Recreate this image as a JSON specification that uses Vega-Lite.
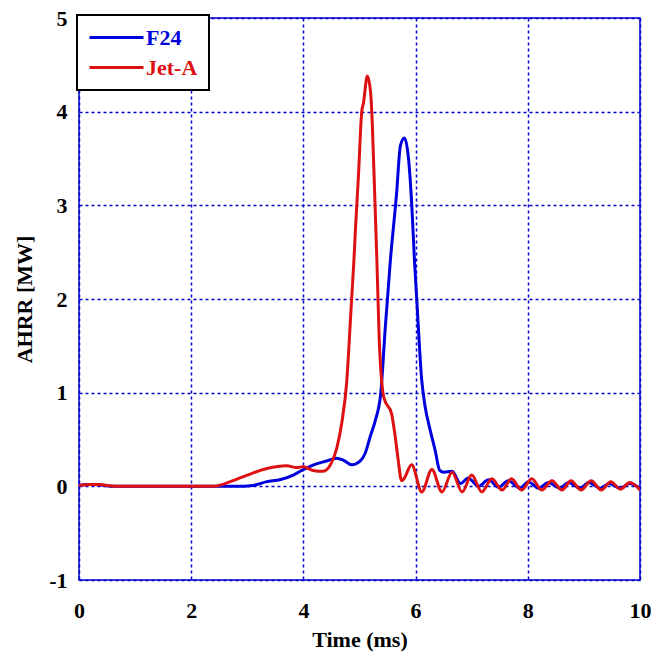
{
  "$schema": "https://vega.github.io/schema/vega-lite/v6.json",
  "width": 561,
  "height": 562,
  "autosize": {"type": "none"},
  "padding": {"left": 79, "top": 18, "right": 11, "bottom": 74},
  "background": "white",
  "config": {
    "view": {"stroke": "#0000cc", "strokeWidth": 1.5},
    "font": "Liberation Serif",
    "legend": {"strokeColor": "black", "strokeWidth": 2, "fillColor": "white", "cornerRadius": 0},
    "axis": {
      "labelFont": "Liberation Serif",
      "labelFontSize": 22,
      "labelFontWeight": "bold",
      "labelColor": "black",
      "titleFont": "Liberation Serif",
      "titleFontSize": 22,
      "titleFontWeight": "bold",
      "titleColor": "black",
      "domain": false,
      "ticks": false,
      "grid": true,
      "gridColor": "#0000cc",
      "gridDash": [3, 3],
      "gridWidth": 1.5,
      "gridOpacity": 1
    }
  },
  "data": {
    "values": [
      {"t": 0, "v": 0.01, "fuel": "F24"},
      {"t": 0.15, "v": 0.02, "fuel": "F24"},
      {"t": 0.3, "v": 0.02, "fuel": "F24"},
      {"t": 0.45, "v": 0.01, "fuel": "F24"},
      {"t": 0.6, "v": 0.0, "fuel": "F24"},
      {"t": 1.0, "v": 0.0, "fuel": "F24"},
      {"t": 2.0, "v": 0.0, "fuel": "F24"},
      {"t": 2.8, "v": 0.0, "fuel": "F24"},
      {"t": 3.1, "v": 0.01, "fuel": "F24"},
      {"t": 3.35, "v": 0.05, "fuel": "F24"},
      {"t": 3.58, "v": 0.07, "fuel": "F24"},
      {"t": 3.82, "v": 0.12, "fuel": "F24"},
      {"t": 4.0, "v": 0.18, "fuel": "F24"},
      {"t": 4.18, "v": 0.23, "fuel": "F24"},
      {"t": 4.41, "v": 0.27, "fuel": "F24"},
      {"t": 4.59, "v": 0.3, "fuel": "F24"},
      {"t": 4.71, "v": 0.28, "fuel": "F24"},
      {"t": 4.86, "v": 0.23, "fuel": "F24"},
      {"t": 5.01, "v": 0.27, "fuel": "F24"},
      {"t": 5.1, "v": 0.35, "fuel": "F24"},
      {"t": 5.19, "v": 0.53, "fuel": "F24"},
      {"t": 5.28, "v": 0.7, "fuel": "F24"},
      {"t": 5.38, "v": 1.0, "fuel": "F24"},
      {"t": 5.46, "v": 1.7, "fuel": "F24"},
      {"t": 5.55, "v": 2.41, "fuel": "F24"},
      {"t": 5.66, "v": 3.12, "fuel": "F24"},
      {"t": 5.73, "v": 3.64, "fuel": "F24"},
      {"t": 5.8, "v": 3.72, "fuel": "F24"},
      {"t": 5.87, "v": 3.52, "fuel": "F24"},
      {"t": 5.93, "v": 3.02, "fuel": "F24"},
      {"t": 5.98, "v": 2.41, "fuel": "F24"},
      {"t": 6.02, "v": 2.0, "fuel": "F24"},
      {"t": 6.11, "v": 1.13, "fuel": "F24"},
      {"t": 6.17, "v": 0.85, "fuel": "F24"},
      {"t": 6.26, "v": 0.6, "fuel": "F24"},
      {"t": 6.35, "v": 0.38, "fuel": "F24"},
      {"t": 6.43, "v": 0.17, "fuel": "F24"},
      {"t": 6.5, "v": 0.15, "fuel": "F24"},
      {"t": 6.65, "v": 0.16, "fuel": "F24"},
      {"t": 6.8, "v": 0.03, "fuel": "F24"},
      {"t": 6.94, "v": 0.09, "fuel": "F24"},
      {"t": 7.12, "v": 0.0, "fuel": "F24"},
      {"t": 7.3, "v": 0.07, "fuel": "F24"},
      {"t": 7.48, "v": -0.01, "fuel": "F24"},
      {"t": 7.65, "v": 0.06, "fuel": "F24"},
      {"t": 7.86, "v": -0.02, "fuel": "F24"},
      {"t": 8.01, "v": 0.05, "fuel": "F24"},
      {"t": 8.19, "v": -0.02, "fuel": "F24"},
      {"t": 8.37, "v": 0.04, "fuel": "F24"},
      {"t": 8.57, "v": -0.02, "fuel": "F24"},
      {"t": 8.73, "v": 0.04, "fuel": "F24"},
      {"t": 8.93, "v": -0.02, "fuel": "F24"},
      {"t": 9.09, "v": 0.04, "fuel": "F24"},
      {"t": 9.29, "v": -0.02, "fuel": "F24"},
      {"t": 9.45, "v": 0.03, "fuel": "F24"},
      {"t": 9.65, "v": -0.02, "fuel": "F24"},
      {"t": 9.81, "v": 0.03, "fuel": "F24"},
      {"t": 10.0, "v": -0.02, "fuel": "F24"},
      {"t": 0, "v": 0.01, "fuel": "Jet-A"},
      {"t": 0.2, "v": 0.02, "fuel": "Jet-A"},
      {"t": 0.35, "v": 0.02, "fuel": "Jet-A"},
      {"t": 0.5, "v": 0.01, "fuel": "Jet-A"},
      {"t": 0.7, "v": 0.0, "fuel": "Jet-A"},
      {"t": 2.0, "v": 0.0, "fuel": "Jet-A"},
      {"t": 2.39, "v": 0.0, "fuel": "Jet-A"},
      {"t": 2.7, "v": 0.05, "fuel": "Jet-A"},
      {"t": 3.0, "v": 0.12, "fuel": "Jet-A"},
      {"t": 3.35, "v": 0.19, "fuel": "Jet-A"},
      {"t": 3.7, "v": 0.22, "fuel": "Jet-A"},
      {"t": 3.88, "v": 0.2, "fuel": "Jet-A"},
      {"t": 4.0, "v": 0.21, "fuel": "Jet-A"},
      {"t": 4.17, "v": 0.17, "fuel": "Jet-A"},
      {"t": 4.35, "v": 0.16, "fuel": "Jet-A"},
      {"t": 4.5, "v": 0.25, "fuel": "Jet-A"},
      {"t": 4.6, "v": 0.42, "fuel": "Jet-A"},
      {"t": 4.69, "v": 0.7, "fuel": "Jet-A"},
      {"t": 4.77, "v": 1.1, "fuel": "Jet-A"},
      {"t": 4.85, "v": 1.9, "fuel": "Jet-A"},
      {"t": 4.9, "v": 2.41, "fuel": "Jet-A"},
      {"t": 4.93, "v": 2.77, "fuel": "Jet-A"},
      {"t": 4.98, "v": 3.3, "fuel": "Jet-A"},
      {"t": 5.04, "v": 4.0, "fuel": "Jet-A"},
      {"t": 5.07, "v": 4.09, "fuel": "Jet-A"},
      {"t": 5.14, "v": 4.38, "fuel": "Jet-A"},
      {"t": 5.2, "v": 4.19, "fuel": "Jet-A"},
      {"t": 5.23, "v": 3.84, "fuel": "Jet-A"},
      {"t": 5.27, "v": 3.13, "fuel": "Jet-A"},
      {"t": 5.31, "v": 2.41, "fuel": "Jet-A"},
      {"t": 5.35, "v": 1.6, "fuel": "Jet-A"},
      {"t": 5.42, "v": 0.99, "fuel": "Jet-A"},
      {"t": 5.45, "v": 0.92, "fuel": "Jet-A"},
      {"t": 5.57, "v": 0.78, "fuel": "Jet-A"},
      {"t": 5.63, "v": 0.56, "fuel": "Jet-A"},
      {"t": 5.69, "v": 0.28, "fuel": "Jet-A"},
      {"t": 5.75, "v": 0.06, "fuel": "Jet-A"},
      {"t": 5.79, "v": 0.08, "fuel": "Jet-A"},
      {"t": 5.93, "v": 0.23, "fuel": "Jet-A"},
      {"t": 6.11, "v": -0.06, "fuel": "Jet-A"},
      {"t": 6.29, "v": 0.18, "fuel": "Jet-A"},
      {"t": 6.47, "v": -0.06, "fuel": "Jet-A"},
      {"t": 6.65, "v": 0.15, "fuel": "Jet-A"},
      {"t": 6.83, "v": -0.06, "fuel": "Jet-A"},
      {"t": 7.0, "v": 0.12, "fuel": "Jet-A"},
      {"t": 7.18, "v": -0.06, "fuel": "Jet-A"},
      {"t": 7.36, "v": 0.08, "fuel": "Jet-A"},
      {"t": 7.54, "v": -0.04, "fuel": "Jet-A"},
      {"t": 7.71, "v": 0.08, "fuel": "Jet-A"},
      {"t": 7.89, "v": -0.04, "fuel": "Jet-A"},
      {"t": 8.07, "v": 0.08, "fuel": "Jet-A"},
      {"t": 8.25, "v": -0.04, "fuel": "Jet-A"},
      {"t": 8.43, "v": 0.06, "fuel": "Jet-A"},
      {"t": 8.61, "v": -0.04, "fuel": "Jet-A"},
      {"t": 8.77, "v": 0.06, "fuel": "Jet-A"},
      {"t": 8.95, "v": -0.04, "fuel": "Jet-A"},
      {"t": 9.13, "v": 0.06, "fuel": "Jet-A"},
      {"t": 9.31, "v": -0.04, "fuel": "Jet-A"},
      {"t": 9.48, "v": 0.05, "fuel": "Jet-A"},
      {"t": 9.65, "v": -0.03, "fuel": "Jet-A"},
      {"t": 9.82, "v": 0.04, "fuel": "Jet-A"},
      {"t": 10.0, "v": -0.04, "fuel": "Jet-A"}
    ]
  },
  "mark": {"type": "line", "strokeWidth": 3, "interpolate": "monotone", "clip": true},
  "encoding": {
    "x": {
      "field": "t",
      "type": "quantitative",
      "scale": {"domain": [0, 10], "nice": false},
      "axis": {"title": "Time (ms)", "values": [0, 2, 4, 6, 8, 10], "labelPadding": 20, "titlePadding": 8, "labelFlush": false}
    },
    "y": {
      "field": "v",
      "type": "quantitative",
      "scale": {"domain": [-1, 5], "nice": false, "zero": false},
      "axis": {"title": "AHRR [MW]", "values": [-1, 0, 1, 2, 3, 4, 5], "labelExpr": "datum.value < 0 ? '-' + abs(datum.value) : '' + datum.value", "labelPadding": 12, "titlePadding": 12, "labelFlush": false}
    },
    "color": {
      "field": "fuel",
      "type": "nominal",
      "scale": {"domain": ["F24", "Jet-A"], "range": ["#0000dd", "#dd1111"]},
      "legend": {
        "title": null,
        "orient": "none",
        "legendX": -2,
        "legendY": -3,
        "symbolType": "M-2.7,0H2.7",
        "symbolSize": 400,
        "symbolOffset": 17,
        "symbolStrokeWidth": 3,
        "symbolFillColor": "transparent",
        "labelFont": "Liberation Serif",
        "labelFontSize": 22,
        "labelFontWeight": "bold",
        "labelOffset": 18,
        "rowPadding": 7,
        "padding": 11,
        "strokeColor": "black",
        "encode": {
          "labels": {"update": {"fill": {"signal": "datum.value === 'F24' ? '#0000dd' : '#dd1111'"}}}
        }
      }
    }
  }
}
